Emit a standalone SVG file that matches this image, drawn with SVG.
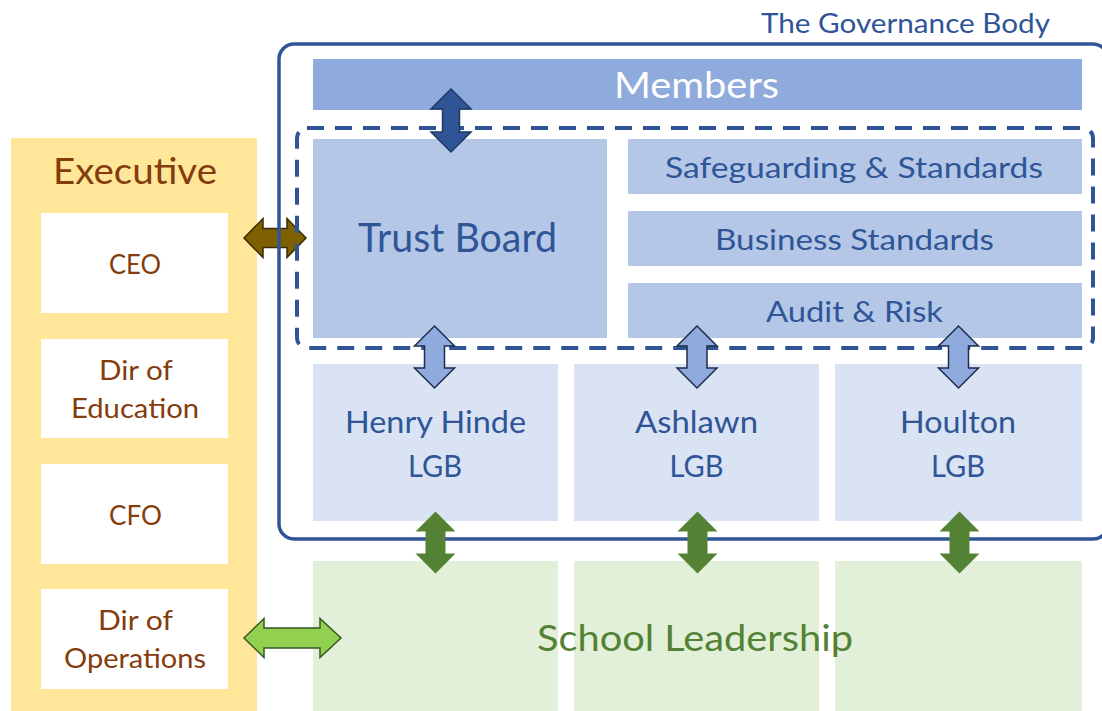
<svg xmlns="http://www.w3.org/2000/svg" width="1102" height="711" viewBox="0 0 1102 711">
<style>
text{font-family:Lato,"Liberation Sans",sans-serif;text-anchor:middle}
.blue{fill:#2F5597}
.brown{fill:#843C0C}
.exec-box{fill:#FFFFFF}
.lgb{fill:#DAE3F3}
.tb{fill:#B4C7E7}
.school{fill:#E2F0D9}
.t26{font-size:26px}
.t29{font-size:29px}
.t31{font-size:31px}
.t36{font-size:36px}
.t40{font-size:40px}
</style>
<defs>
<path id="varrow" d="M0,-31 L20,-11 L10,-11 L10,11 L20,11 L0,31 L-20,11 L-10,11 L-10,-11 L-20,-11 Z"/>
</defs>
<rect width="1102" height="711" fill="#FFFFFF"/>

<g id="executive">
<rect x="11" y="138" width="246" height="573" fill="#FFE699"/>
<text class="brown t36" x="135" y="184" textLength="164" lengthAdjust="spacingAndGlyphs">Executive</text>
</g>
<g id="ceo">
<rect class="exec-box" x="41" y="213" width="187" height="100"/>
<text class="brown t26" x="135" y="274" textLength="52" lengthAdjust="spacingAndGlyphs">CEO</text>
</g>
<g id="dir-education">
<rect class="exec-box" x="41" y="339" width="187" height="99"/>
<text class="brown t26" x="136" y="380" textLength="74" lengthAdjust="spacingAndGlyphs">Dir of</text>
<text class="brown t26" x="135" y="418" textLength="128" lengthAdjust="spacingAndGlyphs">Education</text>
</g>
<g id="cfo">
<rect class="exec-box" x="41" y="464" width="187" height="100"/>
<text class="brown t26" x="135.5" y="525" textLength="53" lengthAdjust="spacingAndGlyphs">CFO</text>
</g>
<g id="dir-operations">
<rect class="exec-box" x="41" y="589" width="187" height="100"/>
<text class="brown t26" x="135.5" y="630" textLength="75" lengthAdjust="spacingAndGlyphs">Dir of</text>
<text class="brown t26" x="135" y="668" textLength="142" lengthAdjust="spacingAndGlyphs">Operations</text>
</g>

<g id="members">
<rect x="313" y="59" width="769" height="51" fill="#8FAADC"/>
<text class="t36" x="696.5" y="98" fill="#FFFFFF" textLength="165" lengthAdjust="spacingAndGlyphs">Members</text>
</g>
<g id="trust-board">
<rect class="tb" x="313" y="139" width="294" height="199"/>
<text class="blue t40" x="457.5" y="252" textLength="199" lengthAdjust="spacingAndGlyphs">Trust Board</text>
</g>
<g id="safeguarding">
<rect class="tb" x="628" y="139" width="454" height="55"/>
<text class="blue t29" x="854" y="178" textLength="378" lengthAdjust="spacingAndGlyphs">Safeguarding &amp; Standards</text>
</g>
<g id="business">
<rect class="tb" x="628" y="211" width="454" height="55"/>
<text class="blue t29" x="854.5" y="250" textLength="279" lengthAdjust="spacingAndGlyphs">Business Standards</text>
</g>
<g id="audit">
<rect class="tb" x="628" y="283" width="454" height="55"/>
<text class="blue t29" x="854.5" y="322" textLength="177" lengthAdjust="spacingAndGlyphs">Audit &amp; Risk</text>
</g>
<g id="henry-hinde-lgb">
<rect class="lgb" x="313" y="364" width="245" height="157"/>
<text class="blue t31" x="435.5" y="433" textLength="181" lengthAdjust="spacingAndGlyphs">Henry Hinde</text>
<text class="blue t31" x="435" y="477" textLength="54" lengthAdjust="spacingAndGlyphs">LGB</text>
</g>
<g id="ashlawn-lgb">
<rect class="lgb" x="574" y="364" width="245" height="157"/>
<text class="blue t31" x="696.5" y="433" textLength="123" lengthAdjust="spacingAndGlyphs">Ashlawn</text>
<text class="blue t31" x="696.5" y="477" textLength="54" lengthAdjust="spacingAndGlyphs">LGB</text>
</g>
<g id="houlton-lgb">
<rect class="lgb" x="835" y="364" width="247" height="157"/>
<text class="blue t31" x="958" y="433" textLength="116" lengthAdjust="spacingAndGlyphs">Houlton</text>
<text class="blue t31" x="958" y="477" textLength="54" lengthAdjust="spacingAndGlyphs">LGB</text>
</g>
<g id="school-leadership">
<rect class="school" x="313" y="561" width="245" height="150"/>
<rect class="school" x="574" y="561" width="245" height="150"/>
<rect class="school" x="835" y="561" width="247" height="150"/>
<text class="t36" x="695" y="651" fill="#548235" textLength="316" lengthAdjust="spacingAndGlyphs">School Leadership</text>
</g>

<g id="connectors">
<path d="M244,238 L263,218.5 L263,228.5 L287,228.5 L287,218.5 L306,238 L287,257.5 L287,247.5 L263,247.5 L263,257.5 Z" fill="#7F6000" stroke="#3A2C00" stroke-width="1.5" stroke-linejoin="miter"/>
</g>

<g id="governance-body">
<rect x="279" y="44" width="829" height="495" rx="15" fill="none" stroke="#2F5597" stroke-width="3.5"/>
<rect x="297" y="128" width="796" height="220" rx="10" fill="none" stroke="#2F5597" stroke-width="4" stroke-dasharray="17 11"/>
<text class="blue t26" x="905.5" y="33" textLength="289" lengthAdjust="spacingAndGlyphs">The Governance Body</text>
</g>

<g id="connectors-top">
<path d="M451,89 L471,109 L459.5,109 L459.5,132 L471,132 L451,152 L431,132 L442.5,132 L442.5,109 L431,109 Z" fill="#2F5597" stroke="#1F3864" stroke-width="1.5"/>
<use href="#varrow" x="434.5" y="357" fill="#8FAADC" stroke="#1F2D4D" stroke-width="1.5"/>
<use href="#varrow" x="697" y="357" fill="#8FAADC" stroke="#1F2D4D" stroke-width="1.5"/>
<use href="#varrow" x="958.5" y="357" fill="#8FAADC" stroke="#1F2D4D" stroke-width="1.5"/>
<use href="#varrow" x="435.5" y="542.5" fill="#548235"/>
<use href="#varrow" x="697.5" y="542.5" fill="#548235"/>
<use href="#varrow" x="959.5" y="542.5" fill="#548235"/>
<path d="M244,638 L264,618.5 L264,628 L320,628 L320,618.5 L341,638 L320,657.5 L320,648 L264,648 L264,657.5 Z" fill="#92D050" stroke="#385723" stroke-width="1.5"/>
</g>
</svg>
